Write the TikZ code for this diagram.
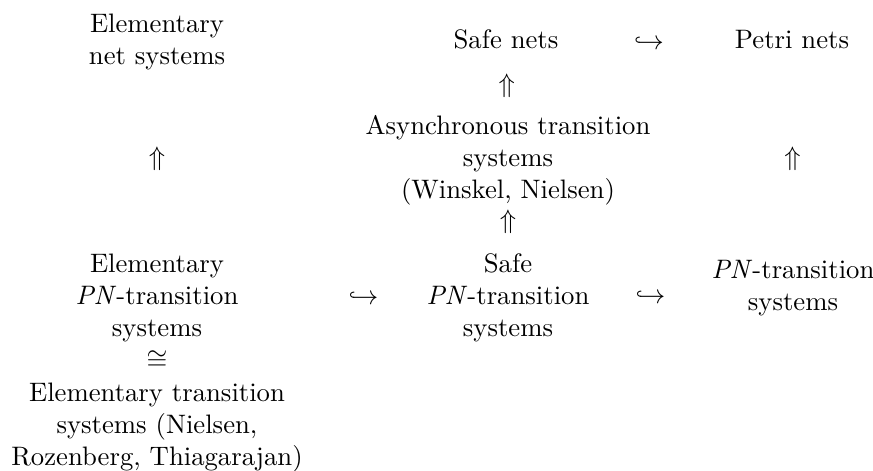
\documentclass[tikz,border=0pt]{standalone}
\tikzstyle{every node}+=[inner sep=0pt]
\tikzstyle{txt}=[align=center,anchor=north]

\begin{document}
\begin{tikzpicture}[x=0.3745pt,y=-0.3745pt]
	\useasboundingbox (0,0) rectangle (873,470);
	% top row
	\node[txt] (ens) at (157,13.5) {Elementary\\net systems};
	\node[txt] (safe) at (506,29.5) {Safe nets};
	\node[txt] (petri) at (792,29.8) {Petri nets};
	\node[txt] (async) at (508,114.5) {Asynchronous transition\\systems\\(Winskel, Nielsen)};
	% bottom row
	\node[txt] (epn) at (157,253.5) {Elementary\\\textit{PN}-transition\\systems};
	\node[txt] (ets) at (157,382.5) {Elementary transition\\systems (Nielsen,\\Rozenberg, Thiagarajan)};
	\node[txt] (spn) at (508,253.5) {Safe\\\textit{PN}-transition\\systems};
	\node[txt] (pn) at (793,259.8) {\textit{PN}-transition\\systems};
	% relations
	\path (safe.mid) -- node {$\hookrightarrow$} (petri.mid);
	\path (async) -- node[pos=0.44] {$\Uparrow$} (safe);
	\path (spn) -- node[pos=0.65] {$\Uparrow$} (async);
	\path (epn) -- node[pos=0.52] {$\Uparrow$} (ens);
	\path (pn) -- node[pos=0.48] {$\Uparrow$} (petri);
	\path (epn) -- node[pos=0.666] {$\hookrightarrow$} (spn);
	\path (spn) -- node[yshift=-1.5pt] {$\hookrightarrow$} (pn);
	\path (epn) -- node[pos=0.44] {$\cong$} (ets);
\end{tikzpicture}
\end{document}
